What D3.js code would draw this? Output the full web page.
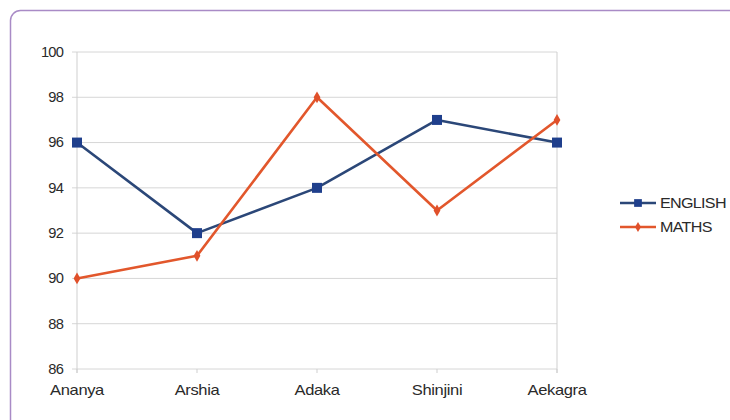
<!DOCTYPE html>
<html>
<head>
<meta charset="utf-8">
<script src="https://cdn.jsdelivr.net/npm/d3@7"></script>
<style>
  html, body { margin: 0; padding: 0; background: #fff; }
  svg { display: block; }
  text { font-family: "Liberation Sans", Arial, sans-serif; fill: #2a2a2a; }
</style>
</head>
<body>
<svg id="chart" width="730" height="420"></svg>
<script>
// Student names along the x axis
const students = ["Ananya", "Arshia", "Adaka", "Shinjini", "Aekagra"];
// Marks per subject
const englishMarks = [96, 92, 94, 97, 96];
const mathsMarks = [90, 91, 98, 93, 97];
// Y axis ticks
const yTicks = [86, 88, 90, 92, 94, 96, 98, 100];

const series = [
  { name: "ENGLISH", values: englishMarks, color: "#2b4778", marker: "square", markerColor: "#1f3f8c" },
  { name: "MATHS", values: mathsMarks, color: "#e2572c", marker: "diamond", markerColor: "#e0502a" }
];

const svg = d3.select("#chart");

// Rounded frame
svg.append("rect")
  .attr("x", 10.5).attr("y", 10.5)
  .attr("width", 740).attr("height", 440)
  .attr("rx", 10)
  .attr("fill", "#fff")
  .attr("stroke", "#a98bc6")
  .attr("stroke-width", 1.5);

const margin = { left: 77, right: 557, top: 52, bottom: 369 };

const x = d3.scalePoint().domain(students).range([margin.left, margin.right]);
const y = d3.scaleLinear().domain([86, 100]).range([margin.bottom, margin.top]);

// Horizontal gridlines
svg.append("g")
  .selectAll("line")
  .data(yTicks)
  .join("line")
  .attr("x1", margin.left - 5).attr("x2", margin.right)
  .attr("y1", d => y(d)).attr("y2", d => y(d))
  .attr("stroke", "#d6d6d6")
  .attr("stroke-width", 1);

// Plot frame sides
svg.append("line")
  .attr("x1", margin.left).attr("x2", margin.left)
  .attr("y1", margin.top).attr("y2", margin.bottom + 4)
  .attr("stroke", "#cfcfcf");
svg.append("line")
  .attr("x1", margin.right).attr("x2", margin.right)
  .attr("y1", margin.top).attr("y2", margin.bottom + 4)
  .attr("stroke", "#cfcfcf");

// X tick marks
svg.append("g")
  .selectAll("line")
  .data(students)
  .join("line")
  .attr("x1", d => x(d)).attr("x2", d => x(d))
  .attr("y1", margin.bottom).attr("y2", margin.bottom + 4)
  .attr("stroke", "#cfcfcf");

// Y axis labels
svg.append("g")
  .selectAll("text")
  .data(yTicks)
  .join("text")
  .attr("transform", d => `translate(${margin.left - 14},${y(d)}) scale(1.05,1)`)
  .attr("dy", "0.35em")
  .attr("text-anchor", "end")
  .attr("font-size", 14)
  .attr("letter-spacing", -0.8)
  .text(d => d);

// X axis labels
svg.append("g")
  .selectAll("text")
  .data(students)
  .join("text")
  .attr("transform", d => `translate(${x(d)},395) scale(1.18,1)`)
  .attr("text-anchor", "middle")
  .attr("font-size", 14)
  .attr("letter-spacing", -0.3)
  .text(d => d);

const line = d3.line()
  .x((d, i) => x(students[i]))
  .y(d => y(d));

const sqSym = d3.symbol().type(d3.symbolSquare).size(100);
const diaSym = d3.symbol().type(d3.symbolDiamond).size(40);

series.forEach(s => {
  svg.append("path")
    .datum(s.values)
    .attr("fill", "none")
    .attr("stroke", s.color)
    .attr("stroke-width", 2.6)
    .attr("stroke-linejoin", "round")
    .attr("d", line);

  svg.append("g")
    .selectAll("path")
    .data(s.values)
    .join("path")
    .attr("transform", (d, i) => `translate(${x(students[i])},${y(d)})`)
    .attr("d", s.marker === "square" ? sqSym() : diaSym())
    .attr("fill", s.markerColor);
});

// Legend
const legend = svg.append("g").attr("transform", "translate(620,203)");
series.forEach((s, i) => {
  const g = legend.append("g").attr("transform", `translate(0,${i * 24})`);
  g.append("line")
    .attr("x1", 0).attr("x2", 36)
    .attr("stroke", s.color).attr("stroke-width", 2.6);
  g.append("path")
    .attr("transform", "translate(18,0)")
    .attr("d", s.marker === "square" ? d3.symbol().type(d3.symbolSquare).size(60)() : d3.symbol().type(d3.symbolDiamond).size(30)())
    .attr("fill", s.markerColor);
  g.append("text")
    .attr("transform", "translate(40,0) scale(1.15,1)")
    .attr("dy", "0.35em")
    .attr("font-size", 14)
    .attr("letter-spacing", -0.6)
    .text(s.name);
});
</script>
</body>
</html>
